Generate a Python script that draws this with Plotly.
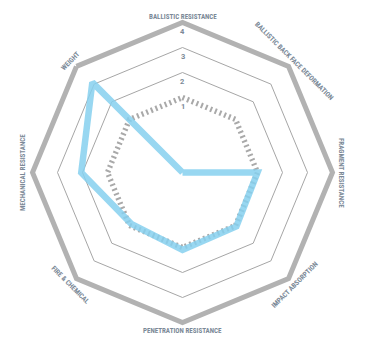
import math
import plotly.graph_objects as go

# Performance axes, clockwise from the top
categories = [
    "BALLISTIC RESISTANCE",
    "BALLISTIC BACK FACE DEFORMATION",
    "FRAGMENT RESISTANCE",
    "IMPACT ABSORPTION",
    "PENETRATION RESISTANCE",
    "FIRE & CHEMICAL",
    "MECHANICAL RESISTANCE",
    "WEIGHT",
]

# Product rating per axis (axis minimum is -2, i.e. the centre)
product_scores = [-2, -2, 1.0, 1.05, 1.1, 0.9, 2.05, 3.1]

# Reference baseline ring
baseline_scores = [1, 1, 1, 1, 1, 1, 1, 1]

# Radial scale
radial_min = -2
radial_max = 4
grid_levels = [2, 3]
tick_labels = [1, 2, 3, 4]

W, H = 371, 345
cx, cy, R = 182.5, 172.5, 150.0

label_color = "#7b8997"
label_font = "Liberation Sans Narrow, Roboto Condensed, DejaVu Sans Condensed, Arial Narrow, sans-serif"


def radius_px(value):
    """Pixel distance from the centre for a radial value."""
    return (value - radial_min) / (radial_max - radial_min) * R


fig = go.Figure()

# dashed baseline octagon
fig.add_trace(go.Scatterpolar(
    r=baseline_scores + baseline_scores[:1],
    theta=categories + categories[:1],
    mode="lines",
    line=dict(color="#a9a9a9", width=5.5, dash="2px,3px"),
    hoverinfo="skip",
    showlegend=False,
))

# product profile
fig.add_trace(go.Scatterpolar(
    r=product_scores + product_scores[:1],
    theta=categories + categories[:1],
    mode="lines",
    line=dict(color="rgba(134,208,238,0.85)", width=6.5),
    hoverinfo="skip",
    showlegend=False,
))

annotations = []

# ring values written along the top axis, just inside each ring
for t in tick_labels:
    py = cy - radius_px(t - 0.36)
    annotations.append(dict(
        x=cx / W, y=1 - py / H, xref="paper", yref="paper",
        text="<b>%d</b>" % t, showarrow=False,
        xanchor="center", yanchor="middle",
        font=dict(family="Roboto, sans-serif", size=7.5, color=label_color),
    ))

# axis titles, rotated to follow each spoke
angles = [90 - 45 * i for i in range(len(categories))]
text_angles = [0, 45, 90, -45, 0, 45, -90, -45]
label_r = [155.5, 157, 159, 159, 158.5, 159, 160, 158]
for name, ang, ta, lr in zip(categories, angles, text_angles, label_r):
    a = math.radians(ang)
    px = cx + lr * math.cos(a)
    py = cy - lr * math.sin(a)
    annotations.append(dict(
        x=px / W, y=1 - py / H, xref="paper", yref="paper",
        text=name, showarrow=False, textangle=ta,
        xanchor="center", yanchor="middle",
        font=dict(family=label_font, size=7, color=label_color, weight="bold"),
    ))

fig.update_layout(
    width=W, height=H,
    margin=dict(l=0, r=0, t=0, b=0),
    paper_bgcolor="white",
    plot_bgcolor="white",
    showlegend=False,
    annotations=annotations,
    polar=dict(
        domain=dict(x=[(cx - R) / W, (cx + R) / W], y=[1 - (cy + R) / H, 1 - (cy - R) / H]),
        bgcolor="white",
        gridshape="linear",
        radialaxis=dict(
            range=[radial_min, radial_max],
            tickvals=grid_levels,
            showticklabels=False,
            ticks="",
            showline=False,
            gridcolor="#a6a6a6",
            gridwidth=1,
        ),
        angularaxis=dict(
            rotation=90,
            direction="clockwise",
            showticklabels=False,
            ticks="",
            showgrid=False,
            showline=True,
            linecolor="#b2b2b2",
            linewidth=5,
        ),
    ),
)

fig.write_html("out.html")
